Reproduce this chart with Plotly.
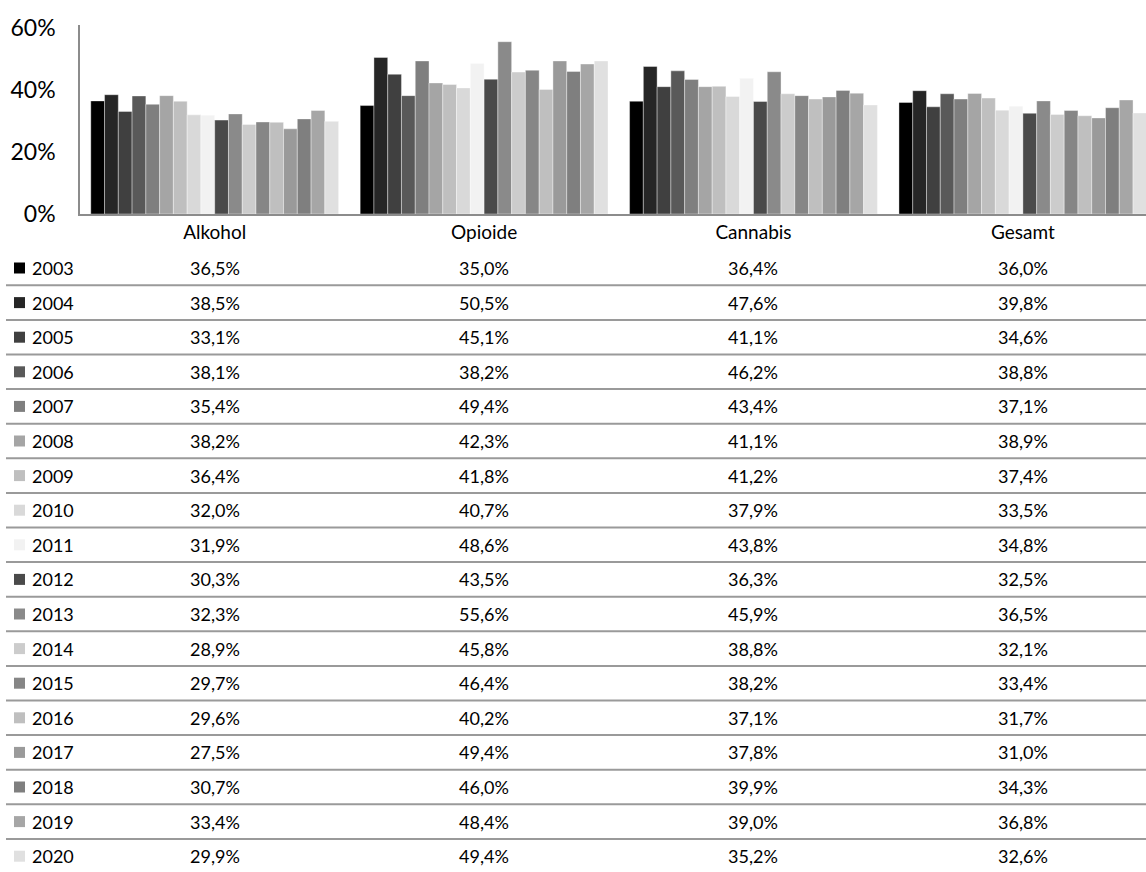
import plotly.graph_objects as go

categories = ["Alkohol", "Opioide", "Cannabis", "Gesamt"]
years = ["2003", "2004", "2005", "2006", "2007", "2008", "2009", "2010", "2011",
         "2012", "2013", "2014", "2015", "2016", "2017", "2018", "2019", "2020"]

alkohol = [36.5, 38.5, 33.1, 38.1, 35.4, 38.2, 36.4, 32.0, 31.9,
           30.3, 32.3, 28.9, 29.7, 29.6, 27.5, 30.7, 33.4, 29.9]
opioide = [35.0, 50.5, 45.1, 38.2, 49.4, 42.3, 41.8, 40.7, 48.6,
           43.5, 55.6, 45.8, 46.4, 40.2, 49.4, 46.0, 48.4, 49.4]
cannabis = [36.4, 47.6, 41.1, 46.2, 43.4, 41.1, 41.2, 37.9, 43.8,
            36.3, 45.9, 38.8, 38.2, 37.1, 37.8, 39.9, 39.0, 35.2]
gesamt = [36.0, 39.8, 34.6, 38.8, 37.1, 38.9, 37.4, 33.5, 34.8,
          32.5, 36.5, 32.1, 33.4, 31.7, 31.0, 34.3, 36.8, 32.6]

colors = ["#000000", "#262626", "#404040", "#595959", "#7f7f7f", "#a5a5a5",
          "#bfbfbf", "#d9d9d9", "#f2f2f2", "#4a4a4a", "#8a8a8a", "#cccccc",
          "#868686", "#bfbfbf", "#9a9a9a", "#7f7f7f", "#a6a6a6", "#e0e0e0"]

yticks = [0, 20, 40, 60]
ytick_text = ["0%", "20%", "40%", "60%"]

W, H = 1146, 872
FONT = "Lato"

fig = go.Figure()
for i, yr in enumerate(years):
    vals = [alkohol[i], opioide[i], cannabis[i], gesamt[i]]
    fig.add_trace(go.Bar(
        x=categories, y=vals, name=yr,
        marker=dict(color=colors[i], line=dict(color="rgba(255,255,255,0.55)", width=0.7)),
        showlegend=False,
    ))

annotations = []
shapes = []
row0, rowstep = 268, 34.6
for i, yr in enumerate(years):
    yc = row0 + i * rowstep
    ypaper = 1 - yc / H
    shapes.append(dict(type="rect", xref="paper", yref="paper",
                       x0=14 / W, x1=25 / W,
                       y0=1 - (yc + 5.5) / H, y1=1 - (yc - 5.5) / H,
                       fillcolor=colors[i], line=dict(width=0)))
    annotations.append(dict(x=30 / W, y=ypaper, xref="paper", yref="paper",
                            text=yr, showarrow=False, xanchor="left", yanchor="middle",
                            font=dict(family=FONT, size=18, color="#000000")))
    vals = [alkohol[i], opioide[i], cannabis[i], gesamt[i]]
    for c, v in zip(categories, vals):
        annotations.append(dict(x=c, y=ypaper, xref="x", yref="paper",
                                text=f"{v:.1f}".replace(".", ",") + "%", showarrow=False,
                                xanchor="center", yanchor="middle",
                                font=dict(family=FONT, size=18, color="#000000")))
    if i < len(years) - 1:
        yl = yc + rowstep / 2
        shapes.append(dict(type="line", xref="paper", yref="paper",
                           x0=6 / W, x1=1, y0=1 - yl / H, y1=1 - yl / H,
                           line=dict(color="#9a9a9a", width=2)))

fig.update_layout(
    width=W, height=H,
    margin=dict(l=0, r=0, t=0, b=0, autoexpand=False),
    paper_bgcolor="white", plot_bgcolor="white",
    barmode="group", bargap=0.08, bargroupgap=0,
    font=dict(family=FONT, color="#000000"),
    xaxis=dict(domain=[80 / W, 1], range=[-0.5, 3.457], automargin=False,
               showline=True, linecolor="#8c8c8c", linewidth=2,
               ticks="", showgrid=False, zeroline=False,
               tickfont=dict(family=FONT, size=19, color="#000000"),
               ticklabelstandoff=0),
    yaxis=dict(domain=[1 - 214 / H, 1 - 25 / H], range=[0, 61], automargin=False,
               tickvals=yticks, ticktext=ytick_text,
               showline=True, linecolor="#8c8c8c", linewidth=1.5,
               ticks="", showgrid=False, zeroline=False,
               tickfont=dict(family=FONT, size=23, color="#000000"),
               ticklabelstandoff=18),
    annotations=annotations,
    shapes=shapes,
)

fig.write_html("out.html", config={"displayModeBar": False},
               post_script="document.body.style.margin='0';document.body.style.overflow='hidden';")
